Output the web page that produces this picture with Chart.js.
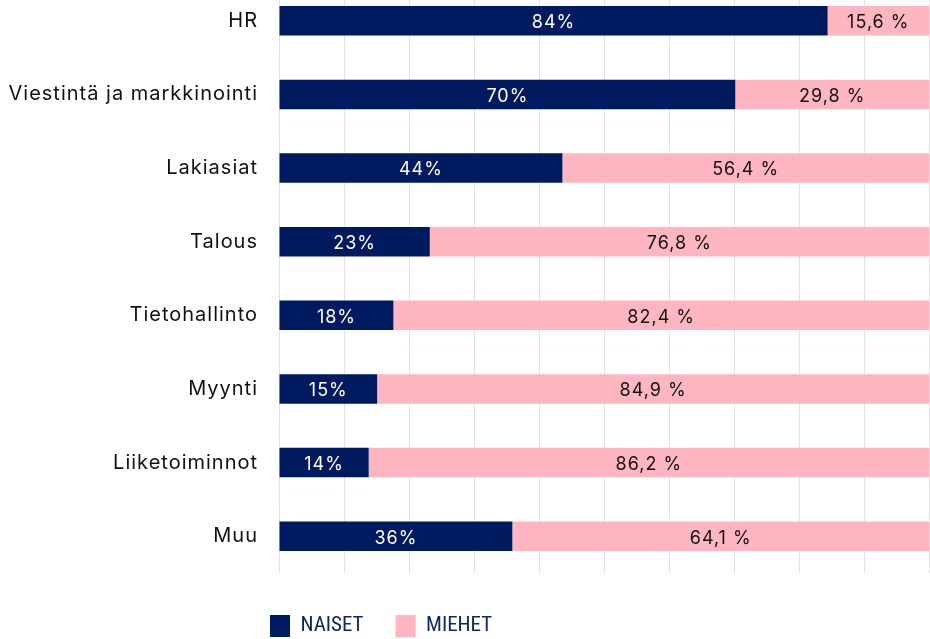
<!DOCTYPE html>
<html>
<head>
<meta charset="utf-8">
<script src="https://cdn.jsdelivr.net/npm/chart.js@4"></script>
<style>
  html, body { margin: 0; padding: 0; background: #fff; overflow: hidden; }
  /* canvas is taller than the window: the top of the original chart is cut off */
  #wrap { width: 930px; height: 699px; margin-top: -60px; }
</style>
</head>
<body>
<div id="wrap"><canvas id="gender-chart"></canvas></div>
<script>
var categories = ['HR', 'Viestintä ja markkinointi', 'Lakiasiat', 'Talous', 'Tietohallinto', 'Myynti', 'Liiketoiminnot', 'Muu'];
var naiset = [84.4, 70.2, 43.6, 23.2, 17.6, 15.1, 13.8, 35.9];
var miehet = [15.6, 29.8, 56.4, 76.8, 82.4, 84.9, 86.2, 64.1];
var series_names = ['NAISET', 'MIEHET'];

var navy = '#001a5f';
var pink = '#ffb6c1';
var font_family = 'Inter, Roboto, sans-serif';
var legend_font = '"Liberation Sans Narrow", "Roboto Condensed", Roboto, sans-serif';

// wider letter spacing like the original typeface
var spacing = {
  id: 'spacing',
  beforeUpdate: function(chart) { chart.ctx.letterSpacing = '1px'; },
  beforeDraw: function(chart) { chart.ctx.letterSpacing = '1px'; }
};

// draws the numbers in the middle of each segment
var segment_labels = {
  id: 'segmentLabels',
  afterDatasetsDraw: function(chart) {
    var ctx = chart.ctx;
    ctx.save();
    ctx.font = '18px ' + font_family;
    ctx.letterSpacing = '1px';
    ctx.textAlign = 'center';
    ctx.textBaseline = 'middle';
    chart.data.datasets.forEach(function(ds, di) {
      var meta = chart.getDatasetMeta(di);
      meta.data.forEach(function(bar, i) {
        var v = ds.data[i];
        var text = di == 0 ? Math.round(v) + '%' : v.toFixed(1).replace('.', ',') + ' %';
        ctx.fillStyle = di == 0 ? '#ffffff' : '#111111';
        ctx.fillText(text, (bar.x + bar.base) / 2, bar.y + 2);
      });
    });
    ctx.restore();
  }
};

// legend is not centred in the original, move it left and down
var legend_shift = {
  id: 'legendShift',
  afterUpdate: function(chart) {
    var lg = chart.legend;
    var pad = lg.options.labels.padding;
    var w = lg.right - lg.left;
    lg.left = 270 - pad;
    lg.right = lg.left + w;
    var h = lg.bottom - lg.top;
    lg.top = 675 - pad;
    lg.bottom = lg.top + h;
    if (!lg._plainDraw) {
      var originalDraw = lg.draw;
      lg.draw = function() {
        var ctx = chart.ctx;
        ctx.save();
        ctx.letterSpacing = '0px';
        originalDraw.apply(this, arguments);
        ctx.restore();
      };
      lg._plainDraw = true;
    }
  }
};

Chart.defaults.font.family = font_family;

new Chart(document.getElementById('gender-chart').getContext('2d'), {
  type: 'bar',
  data: {
    labels: categories,
    datasets: [
      {
        label: series_names[0],
        data: naiset,
        backgroundColor: navy,
        borderWidth: 0,
        barPercentage: 0.4,
        categoryPercentage: 1.0
      },
      {
        label: series_names[1],
        data: miehet,
        backgroundColor: pink,
        borderWidth: 0,
        barPercentage: 0.4,
        categoryPercentage: 1.0
      }
    ]
  },
  options: {
    indexAxis: 'y',
    responsive: true,
    maintainAspectRatio: false,
    animation: false,
    layout: {
      padding: { top: 44, right: 1, bottom: 2, left: 0 }
    },
    scales: {
      x: {
        stacked: true,
        min: 0,
        max: 100,
        ticks: { display: false, stepSize: 10 },
        grid: { color: '#e2e2e2', drawTicks: false },
        border: { display: false }
      },
      y: {
        stacked: true,
        afterFit: function(scale) { scale.width = 279; },
        ticks: {
          color: '#111111',
          padding: 21,
          font: { size: 20 }
        },
        grid: { display: false, drawTicks: false },
        border: { display: false }
      }
    },
    plugins: {
      tooltip: { enabled: false },
      legend: {
        position: 'bottom',
        align: 'start',
        labels: {
          boxWidth: 20,
          boxHeight: 22,
          padding: 32,
          color: '#0b2a63',
          font: { size: 21, family: legend_font }
        }
      }
    }
  },
  plugins: [spacing, segment_labels, legend_shift]
});
</script>
</body>
</html>
